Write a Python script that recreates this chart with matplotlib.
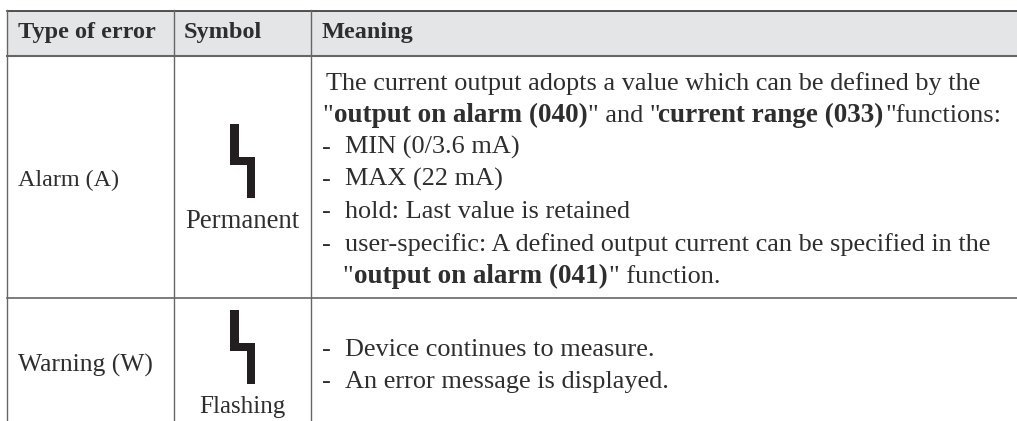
import matplotlib
matplotlib.use('Agg')
import matplotlib.pyplot as plt
from matplotlib.patches import Polygon

plt.rcParams['font.family'] = ['Liberation Serif', 'DejaVu Serif']

W, H = 1017, 421
INK = '#2e2e2e'
FS = 18.9
FS_BOLD = 19.5
FS_HEAD = 17.5

headers = ['Type of error', 'Symbol', 'Meaning']
header_x = [18, 184, 322]
row_names = ['Alarm (A)', 'Warning (W)']
row_name_y = [186, 372]
row_name_fs = [17.4, 18.4]
symbol_labels = ['Permanent', 'Flashing']
symbol_label_y = [228, 413]
symbol_label_fs = [19.3, 18.0]
symbol_top = [124, 310]

# text, bold, x, baseline y
meaning = [
    ('The current output adopts a value which can be defined by the', False, 326, 90),
    ('"', False, 322, 122),
    ('output on alarm (040)', True, 333.5, 122),
    ('" and "', False, 587.5, 122),
    ('current range (033)', True, 658.5, 122),
    ('"functions:', False, 885, 122),
    ('-', False, 322, 154), ('MIN (0/3.6 mA)', False, 345, 154),
    ('-', False, 322, 186), ('MAX (22 mA)', False, 345, 186),
    ('-', False, 322, 218), ('hold: Last value is retained', False, 345, 218),
    ('-', False, 322, 251),
    ('user-specific: A defined output current can be specified in the', False, 345, 251),
    ('"', False, 342.5, 283),
    ('output on alarm (041)', True, 354, 283),
    ('" function.', False, 609, 283),
    ('-', False, 322, 356), ('Device continues to measure.', False, 345, 356),
    ('-', False, 322, 388), ('An error message is displayed.', False, 345, 388),
]

fig = plt.figure(figsize=(W / 100, H / 100), dpi=100)
ax = fig.add_axes([0, 0, 1, 1])
ax.set_xlim(0, W)
ax.set_ylim(H, 0)
ax.axis('off')

# header band and rules
ax.fill_between([7, W], 10.5, 55.5, color='#e4e5e7', lw=0)
ax.plot([7, W], [10.5, 10.5], color='#333333', lw=1.2)
ax.plot([7, W], [55.5, 55.5], color='#666666', lw=1.5)
ax.plot([7, W], [297.5, 297.5], color='#666666', lw=1.2)
for x in [7, 173.5, 311]:
    ax.plot([x, x], [10, H], color='#666666', lw=1.0)

for s, x in zip(headers, header_x):
    ax.text(x, 38, s, fontsize=FS_HEAD, fontweight='bold', color=INK, va='baseline')

for s, y, fs in zip(row_names, row_name_y, row_name_fs):
    ax.text(18, y, s, fontsize=fs, color=INK, va='baseline')

for s, y, fs in zip(symbol_labels, symbol_label_y, symbol_label_fs):
    ax.text(242.5, y, s, fontsize=fs, color=INK, ha='center', va='baseline')

# lightning symbol
for top in symbol_top:
    pts = [(230, top), (238.5, top), (238.5, top + 33), (255, top + 33),
           (255, top + 74), (247, top + 74), (247, top + 41), (230, top + 41)]
    ax.add_patch(Polygon(pts, closed=True, fc='#231f20', ec='none'))

for s, bold, x, y in meaning:
    ax.text(x, y, s, fontsize=FS_BOLD if bold else FS,
            fontweight='bold' if bold else 'normal', color=INK, va='baseline')

fig.savefig('out.png', dpi=100)
